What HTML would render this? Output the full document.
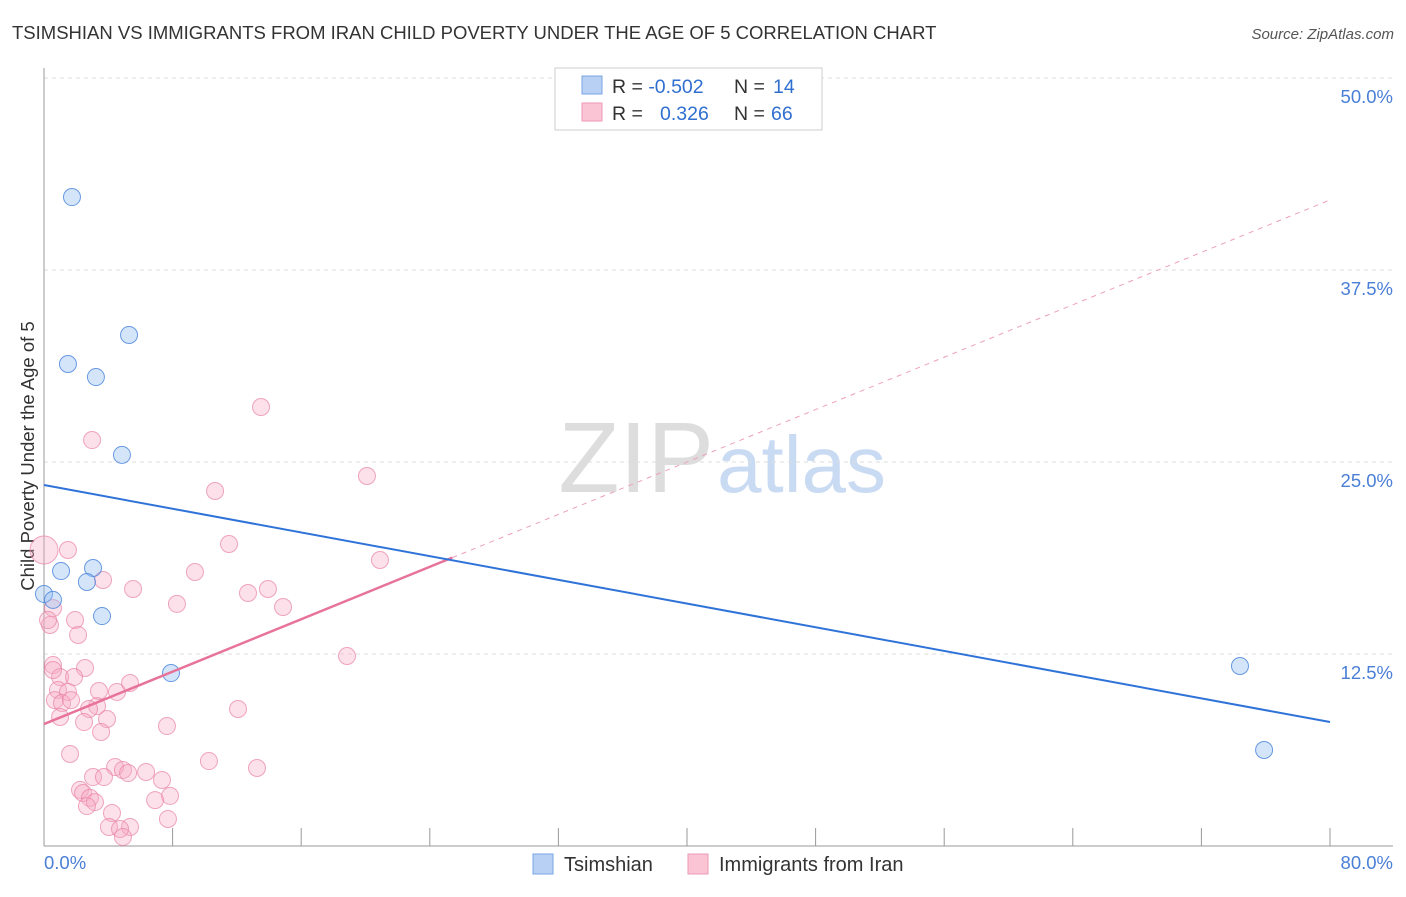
<!DOCTYPE html>
<html><head><meta charset="utf-8"><style>
body{margin:0;background:#fff;font-family:"Liberation Sans",sans-serif}
svg text{font-family:"Liberation Sans",sans-serif}
</style></head><body>
<svg width="1406" height="892" viewBox="0 0 1406 892">
<text x="12" y="39" font-size="18.5" fill="#333">TSIMSHIAN VS IMMIGRANTS FROM IRAN CHILD POVERTY UNDER THE AGE OF 5 CORRELATION CHART</text>
<text x="1394" y="39" font-size="15" fill="#555" font-style="italic" text-anchor="end">Source: ZipAtlas.com</text>
<text x="714" y="492" font-size="100" fill="#ddd" text-anchor="end" font-family="Liberation Serif">ZIP</text>
<text x="717" y="492" font-size="80" fill="#c9daf3">atlas</text>
<g id="grid"></g>
<line x1="44" y1="68" x2="44" y2="846" stroke="#999"/>
<line x1="44" y1="846" x2="1393" y2="846" stroke="#999"/>
<g id="xticks"></g>
<text transform="translate(34,456) rotate(-90)" font-size="18.5" fill="#333" text-anchor="middle">Child Poverty Under the Age of 5</text>
<text x="44" y="869" font-size="18.5" fill="#4a7fd6">0.0%</text>
<text x="1393" y="869" font-size="18.5" fill="#4a7fd6" text-anchor="end">80.0%</text>
<g id="pts"></g>
<g id="lines"></g>
<g>
<rect x="555" y="68" width="267" height="62" fill="#fff" stroke="#ccc"/>
<rect x="582" y="76" width="20" height="18" fill="#b7d0f3" stroke="#7aa6e6"/>
<rect x="582" y="103" width="20" height="18" fill="#fac4d5" stroke="#ee9ab6"/>
<text x="612" y="93" font-size="19.5" fill="#333">R = <tspan fill="#2f6fd0">-0.502</tspan><tspan x="734">N = </tspan><tspan fill="#2f6fd0" x="773">14</tspan></text>
<text x="612" y="120" font-size="19.5" fill="#333">R = <tspan fill="#2f6fd0" x="660">0.326</tspan><tspan x="734">N = </tspan><tspan fill="#2f6fd0" x="771">66</tspan></text>
</g>
<g>
<rect x="533" y="854" width="20" height="20" fill="#b7d0f3" stroke="#7aa6e6"/>
<text x="564" y="871" font-size="20" fill="#333">Tsimshian</text>
<rect x="688" y="854" width="20" height="20" fill="#fac4d5" stroke="#ee9ab6"/>
<text x="719" y="871" font-size="20" fill="#333">Immigrants from Iran</text>
</g>
</svg>
<script>
const yTicks=[12.5,25,37.5,50];
const yTickLabels=["12.5%","25.0%","37.5%","50.0%"];
const blueX=[1.74,5.29,1.49,3.23,4.85,0,0.56,1.06,3.05,2.67,3.61,7.90,74.4,75.9];
const blueY=[42.25,33.27,31.38,30.53,25.46,16.41,16.02,17.90,18.10,17.19,14.97,11.26,11.72,6.25];
const pinkX=[0,1.49,13.5,2.99,20.09,10.64,11.51,20.9,9.39,3.67,5.54,13.93,12.69,8.27,14.87,0.56,0.37,1.93,2.12,18.85,0.56,2.55,1.0,1.87,0.87,1.49,3.42,4.54,5.35,0.68,1.12,1.68,3.3,2.8,12.07,1.0,3.92,2.49,7.65,3.55,1.62,10.26,13.25,4.42,4.91,5.23,6.35,3.05,3.73,7.34,2.24,2.43,7.84,2.86,3.17,6.91,2.67,4.23,7.71,4.04,5.35,4.73,4.91,0.56,0.25];
const pinkY=[19.27,19.27,28.58,26.43,24.09,23.11,19.66,18.62,17.84,17.32,16.73,16.73,16.47,15.76,15.56,15.49,14.39,14.71,13.74,12.37,11.78,11.59,11.0,11.0,10.16,10.03,10.09,10.03,10.61,9.5,9.31,9.5,9.11,8.92,8.92,8.4,8.27,8.07,7.81,7.42,5.99,5.53,5.08,5.14,4.95,4.75,4.82,4.49,4.49,4.30,3.65,3.45,3.26,3.13,2.86,2.99,2.6,2.15,1.76,1.24,1.24,1.11,0.59,11.46,14.71];
const blueFit=[23.5,8.07];
const pinkFit=[7.94,42.06];
const pinkSolidEnd=25.4;
const NS="http://www.w3.org/2000/svg";
const sx=v=>44+v*16.075, sy=v=>846-v*15.36;
function mk(tag,attrs,parent){const e=document.createElementNS(NS,tag);for(const k in attrs)e.setAttribute(k,attrs[k]);document.getElementById(parent).appendChild(e);return e;}
yTicks.forEach((t,i)=>{
 const l=mk('line',{x1:44,x2:1393,y1:sy(t),y2:sy(t),stroke:'#ddd','stroke-dasharray':'4,4'},'grid');
 
 
 const tx=mk('text',{x:1393,y:sy(t)+25,'font-size':18.5,fill:'#4a7fd6','text-anchor':'end'},'grid');
 tx.textContent=yTickLabels[i];
 
 
});
for(let i=1;i<=10;i++){
 const l=mk('line',{x1:sx(i*8),x2:sx(i*8),y1:828,y2:846,stroke:'#999'},'xticks');
 
 
}
pinkX.forEach((x,i)=>{
 const c=mk('circle',{cx:sx(x),cy:sy(pinkY[i]),r:i===0?14:8.5,fill:'rgba(246,170,196,0.35)',stroke:'rgba(232,130,165,0.7)','stroke-width':1},'pts');
 
 
});
blueX.forEach((x,i)=>{
 const c=mk('circle',{cx:sx(x),cy:sy(blueY[i]),r:8.5,fill:'rgba(150,190,240,0.4)',stroke:'rgba(70,130,220,0.8)','stroke-width':1},'pts');
 
 
});
const pf=x=>pinkFit[0]+(pinkFit[1]-pinkFit[0])*x/80;
let l=mk('line',{x1:sx(pinkSolidEnd),y1:sy(pf(pinkSolidEnd)),x2:sx(80),y2:sy(pinkFit[1]),stroke:'#eea0ba','stroke-dasharray':'5,5','stroke-width':1},'lines');


l=mk('line',{x1:sx(0),y1:sy(pinkFit[0]),x2:sx(pinkSolidEnd),y2:sy(pf(pinkSolidEnd)),stroke:'#e8739a','stroke-width':2.5},'lines');


l=mk('line',{x1:sx(0),y1:sy(blueFit[0]),x2:sx(80),y2:sy(blueFit[1]),stroke:'#2f73d8','stroke-width':2},'lines');


</script>
</body></html>
